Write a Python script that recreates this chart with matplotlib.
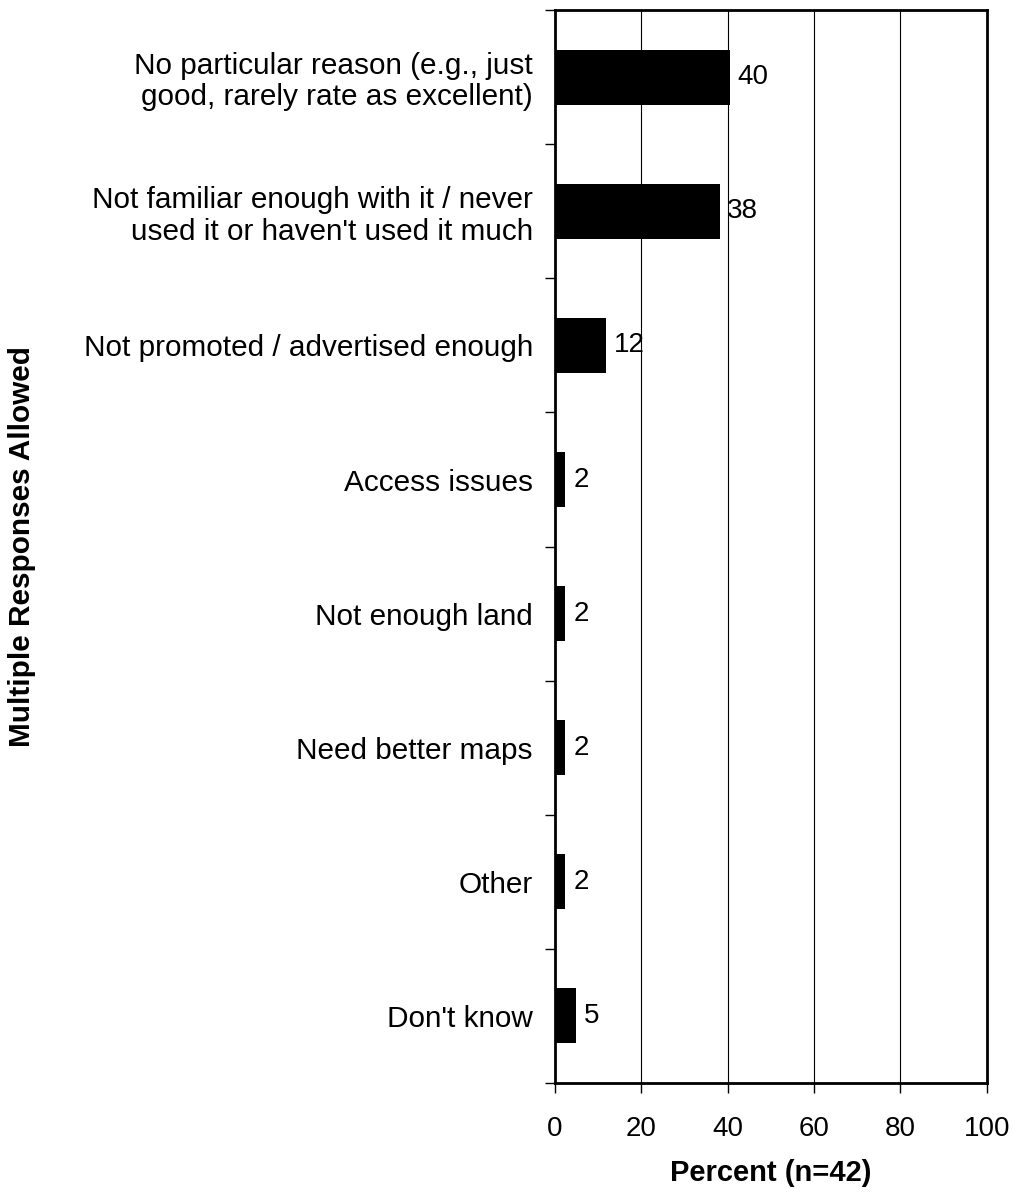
import matplotlib.pyplot as plt
import numpy as np

plt.rcParams['font.family'] = ['Liberation Sans', 'DejaVu Sans']

reasons = [
    "No particular reason (e.g., just\ngood, rarely rate as excellent)",
    "Not familiar enough with it / never\nused it or haven't used it much",
    "Not promoted / advertised enough",
    "Access issues",
    "Not enough land",
    "Need better maps",
    "Other",
    "Don't know",
]
percent = [40.48, 38.10, 11.90, 2.38, 2.38, 2.38, 2.38, 4.76]
x_ticks = [0, 20, 40, 60, 80, 100]

fig = plt.figure(figsize=(10.13, 11.94), dpi=100)
ax = fig.add_axes([0.548, 0.093, 0.426, 0.8985])

n = len(reasons)
y = np.arange(n)
ax.barh(y, percent, height=0.41, color='black', zorder=3)
for yi, v in zip(y, percent):
    ax.text(v + 1.8, yi, '%.0f' % v, va='center', ha='left', fontsize=20)

ax.set_xlim(0, 100)
ax.set_ylim(n - 0.5, -0.5)
ax.set_xticks(x_ticks)
ax.set_xticklabels([str(t) for t in x_ticks], fontsize=20)
ax.xaxis.grid(True, color='black', linewidth=0.8, zorder=0)

ax.set_yticks(y)
ax.set_yticklabels(reasons, fontsize=21.4, ha='right', multialignment='right',
                   linespacing=1.15)
ax.tick_params(axis='y', which='major', length=0, pad=16)
ax.set_yticks(np.arange(n + 1) - 0.5, minor=True)
ax.tick_params(axis='y', which='minor', length=7, width=1, direction='out')
ax.tick_params(axis='x', length=7, width=1, direction='out', pad=17)

for s in ax.spines.values():
    s.set_linewidth(2)
    s.set_color('black')

ax.set_xlabel('Percent (n=42)', fontsize=21, fontweight='bold', labelpad=12)
fig.text(0.022, 0.542, 'Multiple Responses Allowed', rotation=90,
         fontsize=21.4, fontweight='bold', va='center', ha='center')

fig.savefig('out.png', dpi=100, facecolor='white')
